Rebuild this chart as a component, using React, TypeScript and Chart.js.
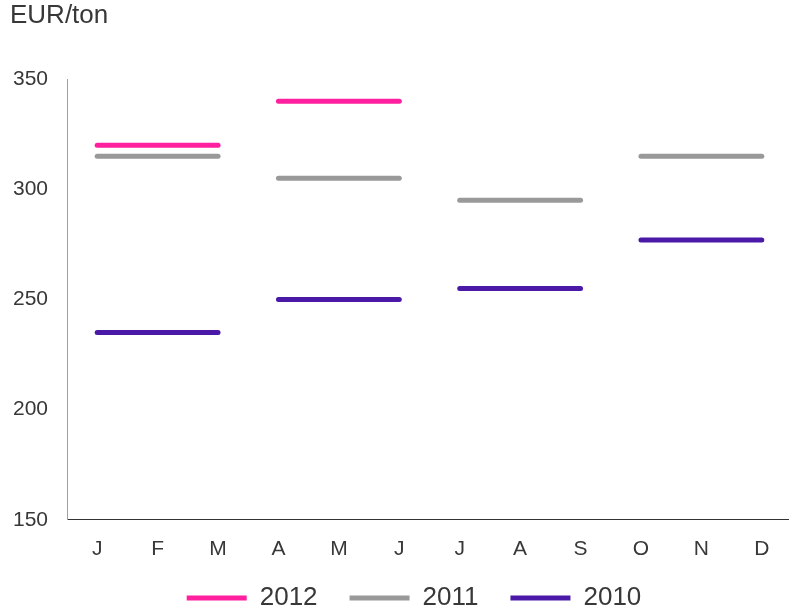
import React, { useEffect, useRef } from "react";
import { Chart, registerables } from "chart.js";

Chart.register(...registerables);

const months = ["J", "F", "M", "A", "M", "J", "J", "A", "S", "O", "N", "D"];
const values2012 = [320, 320, 320, 340, 340, 340, null, null, null, null, null, null];
const values2011 = [315, 315, 315, 305, 305, 305, 295, 295, 295, 315, 315, 315];
const values2010 = [235, 235, 235, 250, 250, 250, 255, 255, 255, 277, 277, 277];
const yTicks = [150, 200, 250, 300, 350];

const FONT = "'Liberation Sans', Arial, Helvetica, sans-serif";
const TEXT = "#383838";

function quarterSeries(label: string, data: (number | null)[], color: string) {
  return {
    label,
    data,
    borderColor: color,
    backgroundColor: color,
    borderWidth: 5,
    borderCapStyle: "round" as const,
    pointRadius: 0,
    pointHoverRadius: 0,
    tension: 0,
    segment: {
      borderColor: (ctx: any) => (ctx.p0DataIndex % 3 === 2 ? "rgba(0,0,0,0)" : color),
    },
  };
}

const shiftLegend = {
  id: "shiftLegend",
  afterLayout(chart: any) {
    const l = chart.legend;
    if (l) {
      l.left += 13;
      l.right += 13;
      l.top -= 26;
      l.bottom -= 26;
    }
  },
};

export default function App() {
  const ref = useRef<HTMLCanvasElement>(null);
  useEffect(() => {
    if (!ref.current) return;
    const chart = new Chart(ref.current, {
      type: "line",
      data: {
        labels: months,
        datasets: [
          quarterSeries("2012", values2012, "#ff1f9f"),
          quarterSeries("2011", values2011, "#999999"),
          quarterSeries("2010", values2010, "#4a19a8"),
        ],
      },
      plugins: [shiftLegend],
      options: {
        responsive: false,
        animation: false,
        events: [],
        layout: { padding: { left: 10, right: 0, top: 0, bottom: 0 } },
        plugins: {
          tooltip: { enabled: false },
          title: {
            display: true,
            text: "EUR/ton",
            align: "start",
            color: TEXT,
            font: { family: FONT, size: 26, weight: "normal" },
            padding: { top: 0, bottom: 48 },
          },
          legend: {
            position: "bottom",
            labels: {
              boxWidth: 60,
              boxHeight: 5,
              padding: 32,
              color: TEXT,
              font: { family: FONT, size: 26 },
              generateLabels: (chart: any) =>
                chart.data.datasets.map((ds: any, i: number) => ({
                  text: ds.label,
                  fillStyle: ds.borderColor,
                  strokeStyle: ds.borderColor,
                  lineWidth: 0,
                  hidden: false,
                  datasetIndex: i,
                  fontColor: TEXT,
                })),
            },
          },
        },
        scales: {
          x: {
            offset: true,
            grid: { display: false, drawTicks: false, offset: true },
            border: { display: true, color: "#333333", width: 1 },
            ticks: {
              color: TEXT,
              padding: 17,
              maxRotation: 0,
              autoSkip: false,
              font: { family: FONT, size: 21 },
            },
          },
          y: {
            min: 150,
            max: 350,
            afterFit: (scale: any) => {
              scale.width = 57;
            },
            afterBuildTicks: (scale: any) => {
              scale.ticks = yTicks.map((v) => ({ value: v }));
            },
            grid: { display: false, drawTicks: false },
            border: { display: true, color: "#a0a0a0", width: 1 },
            ticks: {
              color: TEXT,
              padding: 19,
              font: { family: FONT, size: 21 },
            },
          },
        },
      },
    });
    return () => chart.destroy();
  }, []);
  return (
    <div
      style={{
        position: "absolute",
        left: 0,
        top: 0,
        width: 789,
        height: 615,
        overflow: "hidden",
        background: "#ffffff",
      }}
    >
      <canvas ref={ref} width={792} height={647} style={{ display: "block" }} />
    </div>
  );
}
